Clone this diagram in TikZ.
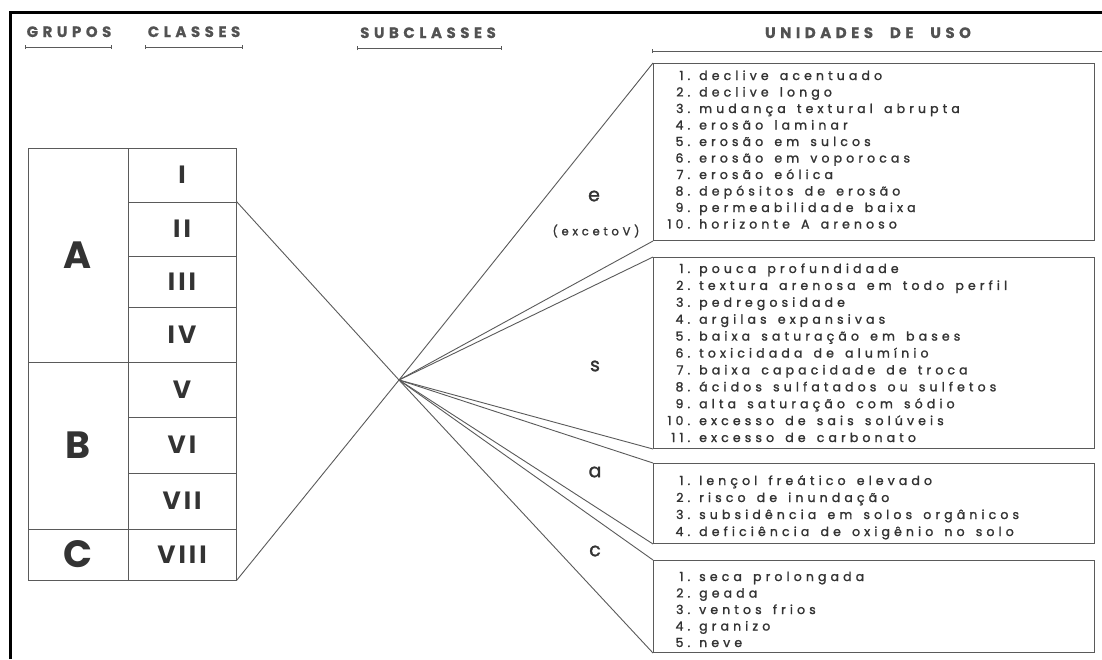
\documentclass[tikz,border=0pt]{standalone}
\usepackage{fontspec}
\setmainfont{Poppins}
\newfontfamily\itemfont[LetterSpace=33,WordSpace=1.5,FakeBold=1.5]{Poppins}
\newfontfamily\headfont[LetterSpace=30,WordSpace=2.2,FakeBold=0.6]{Poppins}
\newfontfamily\numfont[LetterSpace=12]{Poppins}
\newfontfamily\subfont[FakeBold=1.5]{Poppins}
\usetikzlibrary{arrows.meta}
\definecolor{ink}{HTML}{333333}
\definecolor{ln}{HTML}{5A5A5A}
\newcommand\itm[2]{\makebox[26pt][r]{#1}\hspace{9pt}#2}
\tikzset{
  cell/.style={draw=ln, line width=1pt, inner sep=0pt, text=ink},
  grp/.style={cell, minimum width=100pt, font=\bfseries\fontsize{38}{40}\selectfont},
  cls/.style={cell, minimum width=108pt, font=\numfont\bfseries\fontsize{25}{26}\selectfont},
  ubox/.style={draw=ln, line width=1pt, inner sep=0pt, minimum width=441pt, anchor=north west},
  conn/.style={draw=ln, line width=0.9pt},
  head/.style={text=ink!85, font=\headfont\bfseries\fontsize{15}{16}\selectfont, anchor=base},
  hline/.style={draw=ln, line width=0.9pt, {Bar[width=4pt]}-{Bar[width=4pt]}},
  sub/.style={text=ink, font=\subfont\fontsize{19}{20}\selectfont},
  items/.style={text=ink, anchor=base west, inner sep=0pt},
}
\begin{document}
\begin{tikzpicture}[x=1pt,y=-1pt]
\useasboundingbox (0,0) rectangle (1102,659);
\fill[white] (0,0) rectangle (1102,659);
% frame
\draw[line width=3pt, black] (10,659) -- (10,12) -- (1102,12);

% headers
\node[head] (hG) at (69,37) {GRUPOS};
\node[head] (hC) at (194,37) {CLASSES};
\node[head] (hS) at (428,38) {SUBCLASSES};
\node[head] (hU) at (868,38) {UNIDADES DE USO};
\coordinate (g1) at (25,47); \coordinate (g2) at (112,47);
\coordinate (c1) at (145,47); \coordinate (c2) at (243,47);
\coordinate (s1) at (357,48); \coordinate (s2) at (502,48);
\coordinate (u1) at (652,51); \coordinate (u2) at (1102,51);
\draw[hline] (g1) -- (g2);
\draw[hline] (c1) -- (c2);
\draw[hline] (s1) -- (s2);
\draw[draw=ln, line width=0.9pt, {Bar[width=4pt]}-] (u1) -- (u2);

% groups
\node[grp, minimum height=214pt] (gA) at (78,255) {A};
\node[grp, minimum height=167pt] (gB) at (78,445.5) {B};
\node[grp, minimum height=51pt] (gC) at (78,554.5) {C};
% classes
\node[cls, minimum height=54pt] (cI) at (182,175) {I};
\node[cls, minimum height=54pt] (cII) at (182,229) {II};
\node[cls, minimum height=51pt] (cIII) at (182,281.5) {III};
\node[cls, minimum height=55pt] (cIV) at (182,334.5) {IV};
\node[cls, minimum height=55pt] (cV) at (182,389.5) {V};
\node[cls, minimum height=56pt] (cVI) at (182,445) {VI};
\node[cls, minimum height=56pt] (cVII) at (182,501) {VII};
\node[cls, minimum height=51pt] (cVIII) at (182,554.5) {VIII};

% junction
\coordinate (J) at (399,380);
\draw[conn] (cII.north east) -- (J);
\draw[conn] (cVIII.south east) -- (J);

% boxes
\node[ubox, minimum height=177pt] (be) at (653,63) {};
\node[ubox, minimum height=191pt] (bs) at (653,257) {};
\node[ubox, minimum height=80pt] (ba) at (653,463) {};
\node[ubox, minimum height=92pt] (bc) at (653,560) {};

\draw[conn] (J) -- (be.north west);
\draw[conn] (J) -- (be.south west);
\draw[conn] (J) -- (bs.north west);
\draw[conn] (J) -- (bs.south west);
\draw[conn] (J) -- (ba.north west);
\draw[conn] (J) -- (ba.south west);
\draw[conn] (J) -- (bc.north west);
\draw[conn] (J) -- (bc.south west);

% subclass labels
\node[sub] (le) at (594,196) {e};
\node[text=ink, font=\itemfont\fontsize{11.5}{12}\selectfont] (lx) at (596,231) {(excetoV)};
\node[sub] (ls) at (595,366) {s};
\node[sub] (la) at (595,472) {a};
\node[sub] (lc) at (595,551) {c};

% items
\node[items] (te) at (664,80) {\itemfont\fontsize{12.5}{16.5}\selectfont
\begin{tabular}[t]{@{}l@{}}
\itm{1.}{declive acentuado}\\
\itm{2.}{declive longo}\\
\itm{3.}{mudança textural abrupta}\\
\itm{4.}{erosão laminar}\\
\itm{5.}{erosão em sulcos}\\
\itm{6.}{erosão em voporocas}\\
\itm{7.}{erosão eólica}\\
\itm{8.}{depósitos de erosão}\\
\itm{9.}{permeabilidade baixa}\\
\itm{10.}{horizonte A arenoso}
\end{tabular}};
\node[items] (ts) at (664,273) {\itemfont\fontsize{12.5}{16.9}\selectfont
\begin{tabular}[t]{@{}l@{}}
\itm{1.}{pouca profundidade}\\
\itm{2.}{textura arenosa em todo perfil}\\
\itm{3.}{pedregosidade}\\
\itm{4.}{argilas expansivas}\\
\itm{5.}{baixa saturação em bases}\\
\itm{6.}{toxicidada de alumínio}\\
\itm{7.}{baixa capacidade de troca}\\
\itm{8.}{ácidos sulfatados ou sulfetos}\\
\itm{9.}{alta saturação com sódio}\\
\itm{10.}{excesso de sais solúveis}\\
\itm{11.}{excesso de carbonato}
\end{tabular}};
\node[items] (ta) at (664,485) {\itemfont\fontsize{12.5}{17}\selectfont
\begin{tabular}[t]{@{}l@{}}
\itm{1.}{lençol freático elevado}\\
\itm{2.}{risco de inundação}\\
\itm{3.}{subsidência em solos orgânicos}\\
\itm{4.}{deficiência de oxigênio no solo}
\end{tabular}};
\node[items] (tc) at (664,581) {\itemfont\fontsize{12.5}{16.5}\selectfont
\begin{tabular}[t]{@{}l@{}}
\itm{1.}{seca prolongada}\\
\itm{2.}{geada}\\
\itm{3.}{ventos frios}\\
\itm{4.}{granizo}\\
\itm{5.}{neve}
\end{tabular}};
\end{tikzpicture}
\end{document}
